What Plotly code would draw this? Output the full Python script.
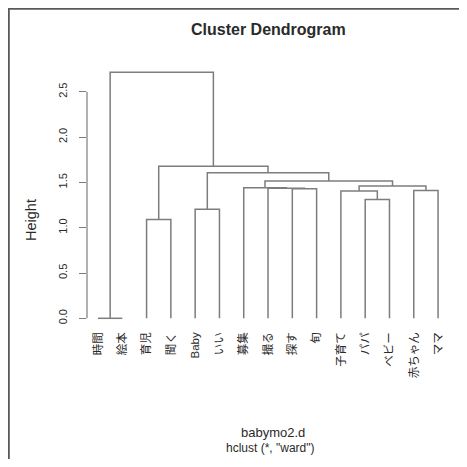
import plotly.graph_objects as go

# ---- data ----
leaf_labels = ["時間", "絵本", "育児", "聞く", "Baby", "いい", "募集", "撮る",
               "探す", "旬", "子育て", "パパ", "ベビー", "赤ちゃん", "ママ"]
# merges: (left child, right child); negative = leaf (1-based, -k), positive = earlier merge (1-based)
merge_left = [-1, -3, -5, -12, -11, -14, -9, -8, -7, 5, 9, 3, 2, 1]
merge_right = [-2, -4, -6, -13, 4, -15, -10, 7, 8, 6, 10, 11, 12, 13]
merge_height = [0.0, 1.09, 1.205, 1.31, 1.405, 1.41, 1.43, 1.435, 1.44,
                1.46, 1.515, 1.607, 1.678, 2.715]
y_ticks = [0.0, 0.5, 1.0, 1.5, 2.0, 2.5]
y_tick_text = ["0.0", "0.5", "1.0", "1.5", "2.0", "2.5"]

title_text = "Cluster Dendrogram"
xlab_line1 = "babymo2.d"
xlab_line2 = 'hclust (*, "ward")'
ylab_text = "Height"

# ---- compute dendrogram segments ----
pos = {}
hgt = {}


def node(c):
    if c < 0:
        return (-c), 0.0  # leaf index (1-based) at height 0
    return pos[c], hgt[c]


xs, ys = [], []
for k, (a, b, h) in enumerate(zip(merge_left, merge_right, merge_height), start=1):
    xa, ha = node(a)
    xb, hb = node(b)
    xs += [xa, xa, xb, xb, None]
    ys += [ha, h, h, hb, None]
    pos[k] = (xa + xb) / 2
    hgt[k] = h

LINE = "#7d7d7d"
TXT = "#2a2a2a"
FONT = "Liberation Sans, Arial, Noto Sans CJK JP, sans-serif"

OFF = 8  # page body margin in the browser
W_FIG, H_FIG = 467 - OFF, 467 - 2 * OFF
# plot area in reference-page pixels
L, R, T, B = 87, 452, 62, 328
W, H = R - L, B - T


def px(x):
    return (x - L) / W


def py(y):
    return (B - y) / H


fig = go.Figure()
fig.add_trace(go.Scatter(x=xs, y=ys, mode="lines",
                         line=dict(color=LINE, width=1.5),
                         hoverinfo="skip", showlegend=False))

shapes = [
    # y axis line from first to last tick (R style)
    dict(type="line", xref="paper", yref="y", x0=0, x1=0,
         y0=y_ticks[0], y1=y_ticks[-1], line=dict(color=LINE, width=1.2)),
    # outer frame (left and top)
    dict(type="line", xref="paper", yref="paper", x0=px(8.8), x1=px(8.8),
         y0=py(8), y1=py(480), line=dict(color="#5a5a5a", width=2)),
    dict(type="line", xref="paper", yref="paper", x0=px(8), x1=px(480),
         y0=py(8.8), y1=py(8.8), line=dict(color="#5a5a5a", width=2)),
]

annotations = [
    dict(text="<b>" + title_text + "</b>", xref="paper", yref="paper",
         x=px(268), y=py(29), showarrow=False, xanchor="center", yanchor="middle",
         font=dict(size=16, color=TXT, family=FONT)),
    dict(text=xlab_line1, xref="paper", yref="paper",
         x=px(273), y=py(432), showarrow=False, xanchor="center", yanchor="middle",
         font=dict(size=13, color=TXT, family=FONT)),
    dict(text=xlab_line2, xref="paper", yref="paper",
         x=px(270), y=py(448), showarrow=False, xanchor="center", yanchor="middle",
         font=dict(size=12, color=TXT, family=FONT)),
    dict(text=ylab_text, xref="paper", yref="paper", textangle=-90,
         x=px(31), y=py(220), showarrow=False, xanchor="center", yanchor="middle",
         font=dict(size=14.5, color=TXT, family=FONT)),
]

fig.update_layout(
    width=W_FIG, height=H_FIG,
    margin=dict(l=L - OFF, r=W_FIG - (R - OFF), t=T - OFF, b=H_FIG - (B - OFF), pad=0),
    paper_bgcolor="white", plot_bgcolor="white",
    shapes=shapes, annotations=annotations,
    xaxis=dict(range=[1 + (L - 98) / 24.29, 1 + (R - 98) / 24.29],
               tickmode="array", tickvals=list(range(1, len(leaf_labels) + 1)),
               ticktext=leaf_labels, tickangle=-90, ticks="",
               showline=False, showgrid=False, zeroline=False,
               ticklabelstandoff=1,
               tickfont=dict(size=11.5, color=TXT, family=FONT)),
    yaxis=dict(range=[(318.3 - B) / 90.6, (318.3 - T) / 90.6],
               tickmode="array", tickvals=y_ticks, ticktext=y_tick_text,
               tickangle=-90, ticks="outside", ticklen=7, tickcolor=LINE,
               tickwidth=1.2, showline=False, showgrid=False, zeroline=False,
               ticklabelstandoff=8,
               tickfont=dict(size=11, color=TXT, family=FONT)),
)

fig.write_html("out.html")
